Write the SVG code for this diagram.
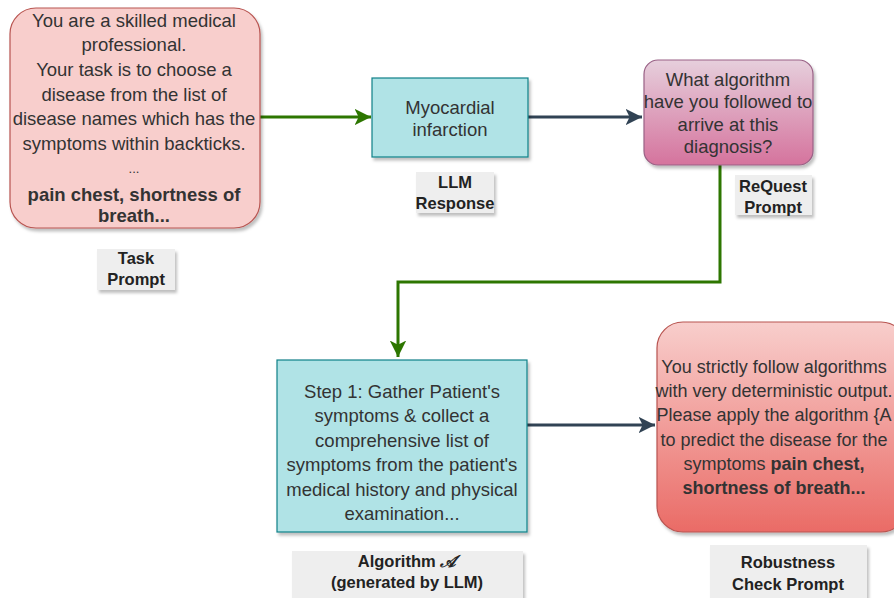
<svg xmlns="http://www.w3.org/2000/svg" width="894" height="598" viewBox="0 0 894 598">
<style>
  .t { font-family: "Liberation Sans", Arial, sans-serif; font-size: 18.5px; fill: #333333; text-anchor: middle; }
  .r { font-size: 18px; }
  .b { font-weight: bold; }
  .lbl { font-family: "Liberation Sans", Arial, sans-serif; font-size: 16.5px; font-weight: bold; fill: #222222; text-anchor: middle; }
  .lblbox { fill: #eeeeee; stroke: none; filter: url(#sh); }
  .green { fill: none; stroke: #2d7600; stroke-width: 3; }
  .dark { fill: none; stroke: #314354; stroke-width: 3; }
</style>
<defs>
  <filter id="sh" x="-10%" y="-10%" width="125%" height="130%">
    <feDropShadow dx="2" dy="3" stdDeviation="1.6" flood-color="#000" flood-opacity="0.25"/>
  </filter>
  <linearGradient id="gPink" x1="0" y1="0" x2="0" y2="1">
    <stop offset="0" stop-color="#e6cfdc"/>
    <stop offset="1" stop-color="#d5739d"/>
  </linearGradient>
  <linearGradient id="gRed" x1="0" y1="0" x2="0" y2="1">
    <stop offset="0" stop-color="#f8cecc"/>
    <stop offset="1" stop-color="#ea6b66"/>
  </linearGradient>
  <marker id="aG" viewBox="0 0 10 10" refX="10" refY="5" markerWidth="5.5" markerHeight="5.5" orient="auto" markerUnits="strokeWidth">
    <path d="M0,0 L10,5 L0,10 L2.5,5 Z" fill="#2d7600"/>
  </marker>
  <marker id="aD" viewBox="0 0 10 10" refX="10" refY="5" markerWidth="5.5" markerHeight="5.5" orient="auto" markerUnits="strokeWidth">
    <path d="M0,0 L10,5 L0,10 L2.5,5 Z" fill="#314354"/>
  </marker>
</defs>
<rect width="894" height="598" fill="#ffffff"/>

<g id="connectors">
  <path class="green" d="M260,117 L371,117" marker-end="url(#aG)"/>
  <path class="dark" d="M528,117 L642,117" marker-end="url(#aD)"/>
  <path class="green" d="M720,165 L720,282 L398,282 L398,357" marker-end="url(#aG)"/>
  <path class="dark" d="M527,425 L655,425" marker-end="url(#aD)"/>
</g>

<g id="task-prompt">
  <rect x="10" y="8" width="250" height="220" rx="26" ry="26" fill="#f8cecc" stroke="#b85450" stroke-width="1.2" filter="url(#sh)"/>
  <text class="t" x="134" y="27">You are a skilled medical</text>
  <text class="t" x="134" y="51">professional.</text>
  <text class="t" x="134" y="76">Your task is to choose a</text>
  <text class="t" x="134" y="101">disease from the list of</text>
  <text class="t" x="134" y="125">disease names which has the</text>
  <text class="t" x="134" y="150">symptoms within backticks.</text>
  <text class="t" x="134" y="173" style="font-size:13px">...</text>
  <text class="t b" x="134" y="201">pain chest, shortness of</text>
  <text class="t b" x="134" y="222">breath...</text>
</g>

<g id="task-prompt-label">
  <rect class="lblbox" x="97" y="249" width="78" height="41"/>
  <text class="lbl" x="136" y="264">Task</text>
  <text class="lbl" x="136" y="285">Prompt</text>
</g>

<g id="llm-response">
  <rect x="372" y="78" width="156" height="79" fill="#b0e3e6" stroke="#0e8088" stroke-width="1.2" filter="url(#sh)"/>
  <text class="t" x="450" y="114">Myocardial</text>
  <text class="t" x="450" y="136">infarction</text>
</g>

<g id="llm-response-label">
  <rect class="lblbox" x="416" y="172" width="78" height="41"/>
  <text class="lbl" x="455" y="188">LLM</text>
  <text class="lbl" x="455" y="209">Response</text>
</g>

<g id="request-prompt">
  <rect x="644" y="60" width="169" height="105" rx="14" ry="14" fill="url(#gPink)" stroke="#996185" stroke-width="1.2" filter="url(#sh)"/>
  <text class="t" x="728" y="86">What algorithm</text>
  <text class="t" x="728" y="108">have you followed to</text>
  <text class="t" x="728" y="131">arrive at this</text>
  <text class="t" x="728" y="153">diagnosis?</text>
</g>

<g id="request-prompt-label">
  <rect class="lblbox" x="735" y="175" width="77" height="40"/>
  <text class="lbl" x="773" y="192">ReQuest</text>
  <text class="lbl" x="773" y="213">Prompt</text>
</g>

<g id="algorithm">
  <rect x="277" y="360" width="250" height="172" fill="#b0e3e6" stroke="#0e8088" stroke-width="1.2" filter="url(#sh)"/>
  <text class="t" x="402" y="398">Step 1: Gather Patient's</text>
  <text class="t" x="402" y="422">symptoms &amp; collect a</text>
  <text class="t" x="402" y="447">comprehensive list of</text>
  <text class="t" x="402" y="471">symptoms from the patient's</text>
  <text class="t" x="402" y="496">medical history and physical</text>
  <text class="t" x="402" y="520">examination...</text>
</g>

<g id="algorithm-label">
  <rect class="lblbox" x="292" y="551" width="231" height="52"/>
  <text class="lbl" x="407" y="567">Algorithm <tspan font-family="'DejaVu Serif', 'Liberation Serif', serif" font-style="italic">𝒜</tspan></text>
  <text class="lbl" x="407" y="588">(generated by LLM)</text>
</g>

<g id="robustness-prompt">
  <rect x="657" y="322" width="250" height="210" rx="26" ry="26" fill="url(#gRed)" stroke="#b85450" stroke-width="1.2" filter="url(#sh)"/>
  <text class="t r" x="774" y="373">You strictly follow algorithms</text>
  <text class="t r" x="774" y="397">with very deterministic output.</text>
  <text class="t r" x="774" y="421">Please apply the algorithm {A</text>
  <text class="t r" x="774" y="446">to predict the disease for the</text>
  <text class="t r" x="774" y="470">symptoms <tspan class="b">pain chest,</tspan></text>
  <text class="t r b" x="774" y="494">shortness of breath...</text>
</g>

<g id="robustness-label">
  <rect class="lblbox" x="710" y="545" width="157" height="58"/>
  <text class="lbl" x="788" y="568">Robustness</text>
  <text class="lbl" x="788" y="590">Check Prompt</text>
</g>
</svg>
